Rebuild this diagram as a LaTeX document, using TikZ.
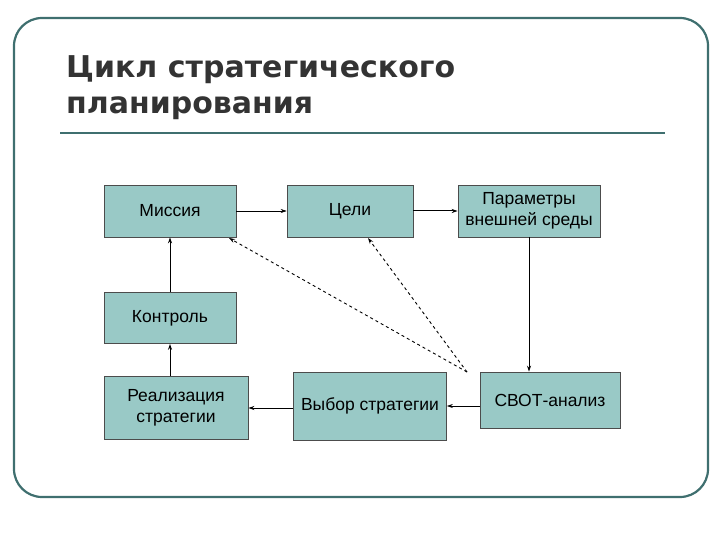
\documentclass[tikz,border=0pt]{standalone}
\usepackage{fontspec}
\setmainfont{Liberation Sans}
\newfontfamily\titlefont{DejaVu Sans}
\usetikzlibrary{arrows.meta}
\definecolor{frame}{HTML}{3F6F6F}
\definecolor{boxfill}{HTML}{99C9C6}
\begin{document}
\begin{tikzpicture}[x=1pt,y=-1pt,
  box/.style={draw=black!70,fill=boxfill,line width=0.6pt,inner sep=0pt,font=\fontsize{17.5}{21}\selectfont,align=center},
  arr/.style={-{Stealth[length=6pt,width=4pt]},line width=1pt},
  dasharr/.style={-{Stealth[length=6pt,width=4pt]},line width=0.9pt,dashed}]
\useasboundingbox (0,0) rectangle (720,540);
\draw[frame,line width=2.2pt,rounded corners=28pt] (14,18) rectangle (708,497);
\node[anchor=north west,align=left,font=\titlefont\bfseries\fontsize{30}{36}\selectfont,text=black!80,inner sep=0pt] (title) at (66,55) {Цикл стратегического\\планирования};
\draw[frame,line width=2pt] (60,133) -- (665,133);
\node[box,minimum width=132pt,minimum height=52pt] (m) at (170,211) {Миссия};
\node[box,minimum width=126pt,minimum height=52pt] (c) at (350,211) {Цели};
\node[box,minimum width=142pt,minimum height=52pt] (p) at (529,211) {Параметры\\внешней среды};
\node[box,minimum width=132pt,minimum height=51pt] (k) at (170,318) {Контроль};
\node[box,minimum width=144pt,minimum height=63pt] (r) at (176,408) {Реализация\\стратегии};
\node[box,minimum width=153pt,minimum height=68pt] (v) at (370,406) {Выбор стратегии};
\node[box,minimum width=140pt,minimum height=56pt] (s) at (550,400) {СВОТ-анализ};
\draw[arr,line width=0.6pt] (m) -- (c);
\draw[arr] (c) -- (p);
\draw[arr] (p.south) -- (p.south|-s.north);
\draw[arr,line width=0.6pt] (s.west|-v.center) -- (v);
\draw[arr] (v.west|-r.center) -- (r);
\draw[arr] (r.north-|k.center) -- (k);
\draw[arr] (k) -- (m);
\coordinate (d) at (467,372);
\draw[dasharr] (d) -- (229,238);
\draw[dasharr] (d) -- (368,238);
\end{tikzpicture}
\end{document}
